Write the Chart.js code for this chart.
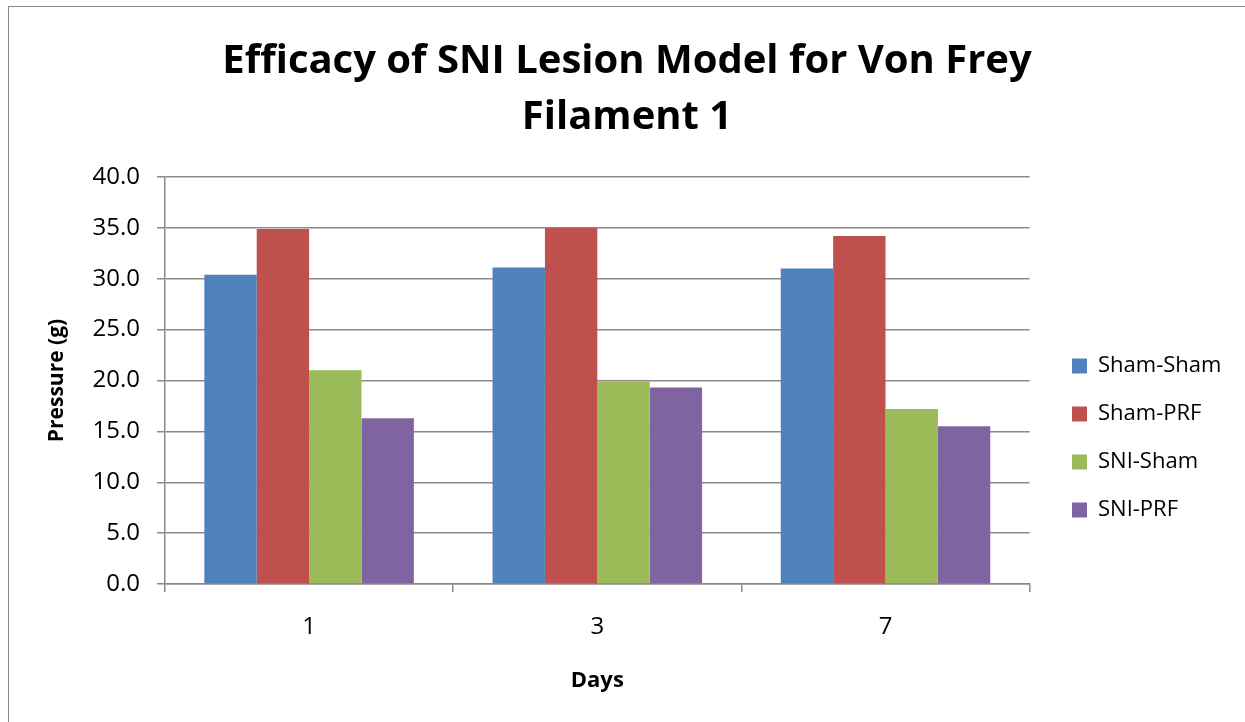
<!DOCTYPE html>
<html>
<head>
<meta charset="utf-8">
<script src="https://cdn.jsdelivr.net/npm/chart.js@4.4.1/dist/chart.umd.min.js"></script>
<style>
  html, body { margin: 0; padding: 0; background: #fff; }
  #wrap { position: relative; width: 1245px; height: 722px; overflow: hidden; }
  #frame { position: absolute; left: 8px; top: 6px; width: 1300px; height: 800px; border: 1.5px solid #8a8a8a; box-sizing: border-box; }
  canvas { position: absolute; left: 0; top: 0; }
</style>
</head>
<body>
<div id="wrap">
  <div id="frame"></div>
  <canvas id="c" width="1245" height="722"></canvas>
</div>
<script>
const titleLines = ['Efficacy of SNI Lesion Model for Von Frey', 'Filament 1'];
const categories = ['1', '3', '7'];
const seriesNames = ['Sham-Sham', 'Sham-PRF', 'SNI-Sham', 'SNI-PRF'];
const shamSham = [30.4, 31.1, 31.0];
const shamPRF = [34.9, 35.0, 34.2];
const sniSham = [21.0, 19.9, 17.2];
const sniPRF = [16.3, 19.3, 15.5];
const yAxisTitle = 'Pressure (g)';
const xAxisTitle = 'Days';
const yMin = 0, yMax = 40, yStep = 5;

const colors = ['#4F81BD', '#C0504D', '#9BBB59', '#8064A2'];
const values = [shamSham, shamPRF, sniSham, sniPRF];
const FONT = "'Open Sans', sans-serif";
const GRID = '#8a8a8a';

const boxShift = {
  id: 'boxShift',
  afterLayout(chart) {
    const lg = chart.legend;
    if (lg) {
      const dx = 1072 - (lg.left + lg.options.labels.padding);
      lg.left += dx; lg.right += dx;
      lg.top += 77; lg.bottom += 77;
    }
    const tt = chart.titleBlock;
    if (tt) {
      const tdx = 627 - (tt.left + tt.right) / 2;
      tt.left += tdx; tt.right += tdx;
    }
  }
};

new Chart(document.getElementById('c'), {
  type: 'bar',
  data: {
    labels: categories,
    datasets: seriesNames.map((n, i) => ({
      label: n,
      data: values[i],
      backgroundColor: colors[i],
      borderWidth: 0,
      categoryPercentage: 0.727,
      barPercentage: 1.0
    }))
  },
  plugins: [boxShift],
  options: {
    responsive: false,
    animation: false,
    layout: { padding: { left: 0, right: 30, top: 0, bottom: 0 } },
    plugins: {
      title: {
        display: true,
        text: titleLines,
        color: '#000',
        font: { family: FONT, size: 40, weight: 'bold', lineHeight: 1.4 },
        padding: { top: 34, bottom: 31 }
      },
      legend: {
        display: true,
        position: 'right',
        align: 'center',
        labels: {
          color: '#000',
          font: { family: FONT, size: 22 },
          boxWidth: 15,
          boxHeight: 15,
          padding: 26
        }
      },
      tooltip: { enabled: false }
    },
    scales: {
      x: {
        offset: true,
        grid: { display: true, offset: true, drawOnChartArea: false, drawTicks: true, tickLength: 8, color: GRID, lineWidth: 1.5 },
        border: { display: true, color: GRID, width: 1.5 },
        ticks: { color: '#000', font: { family: FONT, size: 24 }, padding: 21 },
        title: { display: true, text: xAxisTitle, color: '#000', font: { family: FONT, size: 22, weight: 'bold' }, padding: { top: 10, bottom: 28 } },
        afterFit(scale) { scale.height = 138; }
      },
      y: {
        min: yMin, max: yMax,
        ticks: { stepSize: yStep, color: '#000', font: { family: FONT, size: 24 }, padding: 17, callback: v => Number(v).toFixed(1) },
        grid: { color: GRID, lineWidth: 1.5, drawTicks: true, tickLength: 8 },
        border: { display: true, color: GRID, width: 1.5 },
        title: { display: true, text: yAxisTitle, color: '#000', font: { family: FONT, size: 21, weight: 'bold' }, padding: { top: 44, bottom: 0 } },
        afterFit(scale) { scale.width = 165; }
      }
    }
  }
});
</script>
</body>
</html>
